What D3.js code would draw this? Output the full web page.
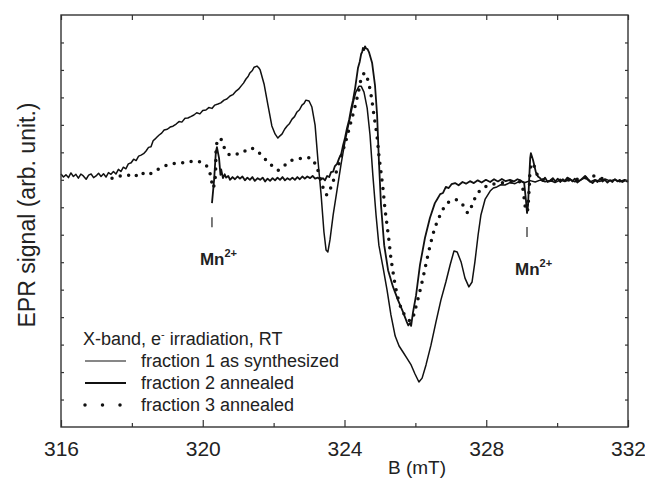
<!DOCTYPE html>
<html>
<head>
<meta charset="utf-8">
<script src="https://cdn.jsdelivr.net/npm/d3@7"></script>
<style>
  body { margin: 0; background: #fff; }
  text { font-family: "Liberation Sans", Arial, sans-serif; fill: #222; }
</style>
</head>
<body>
<div id="wrapper"></div>
<script>
// [B (mT), EPR signal (arb.)]
const fraction1 = [
  [316.00,9.21],[316.07,9.10],[316.14,9.18],[316.21,9.08],[316.28,9.25],[316.35,9.12],[316.42,9.20],[316.49,9.06],
  [316.56,9.21],[316.63,9.14],[316.71,9.02],[316.78,9.17],[316.85,9.21],[316.92,9.08],[316.99,9.14],[317.06,9.24],
  [317.13,9.12],[317.20,9.22],[317.27,9.10],[317.34,9.26],[317.41,9.20],[317.48,9.30],[317.55,9.21],[317.62,9.38],
  [317.69,9.30],[317.76,9.46],[317.83,9.40],[317.90,9.58],[317.98,9.62],[318.05,9.75],[318.12,9.70],[318.19,9.86],
  [318.26,9.90],[318.33,9.95],[318.40,10.05],[318.47,10.18],[318.54,10.20],[318.60,10.42],[318.65,10.48],[318.71,10.56],
  [318.77,10.63],[318.84,10.70],[318.91,10.81],[319.00,10.84],[319.08,10.92],[319.16,10.95],[319.25,11.03],[319.33,11.12],
  [319.41,11.10],[319.50,11.24],[319.58,11.25],[319.66,11.30],[319.75,11.36],[319.83,11.44],[319.92,11.40],[320.00,11.52],
  [320.09,11.54],[320.17,11.63],[320.26,11.60],[320.34,11.72],[320.43,11.76],[320.51,11.80],[320.60,11.90],[320.68,11.94],
  [320.77,12.05],[320.85,12.10],[320.94,12.23],[321.01,12.30],[321.08,12.41],[321.15,12.52],[321.22,12.67],[321.28,12.76],
  [321.33,12.89],[321.40,12.98],[321.45,13.10],[321.53,13.14],[321.58,13.08],[321.62,13.00],
  [321.73,12.49],[321.84,11.72],[321.95,10.96],[322.04,10.67],[322.12,10.52],[322.18,10.60],[322.24,10.67],[322.31,10.84],
  [322.38,10.96],[322.45,11.05],[322.52,11.21],[322.59,11.30],[322.66,11.47],[322.73,11.55],[322.80,11.72],[322.86,11.78],
  [322.91,11.90],[323.00,11.87],[323.08,11.65],[323.17,10.99],[323.25,9.72],[323.34,8.45],
  [323.42,7.10],[323.48,6.44],[323.53,6.37],[323.59,6.81],[323.68,7.72],[323.79,8.63],[323.90,9.54],[324.01,10.37],
  [324.13,11.10],[324.24,11.79],[324.32,12.19],[324.41,12.41],[324.47,12.41],[324.55,12.19],[324.64,11.61],[324.72,10.63],
  [324.80,9.17],[324.89,7.72],[324.97,6.62],[325.09,5.79],[325.20,4.99],[325.31,4.08],[325.43,3.31],[325.54,2.95],
  [325.65,2.73],[325.76,2.51],[325.88,2.26],[325.99,1.93],[326.10,1.64],[326.19,1.78],[326.30,2.26],[326.44,2.98],
  [326.58,3.82],[326.72,4.62],[326.86,5.28],[326.98,5.90],[327.09,6.41],[327.18,6.37],[327.29,6.01],[327.40,5.42],
  [327.51,5.10],[327.60,5.28],[327.68,6.01],[327.77,6.99],[327.85,7.72],[327.97,8.30],[328.11,8.59],[328.20,8.70],
  [328.30,8.74],[328.41,8.82],[328.53,8.81],[328.67,8.90],[328.81,8.86],[328.95,8.95],[329.10,8.90],[329.24,8.97],
  [329.38,8.92],[329.52,8.99],[329.66,8.93],[329.80,8.98],[329.94,8.90],[330.08,8.99],[330.22,8.94],[330.36,9.02],
  [330.50,8.93],[330.65,8.98],[330.79,9.08],[330.93,8.92],[331.07,9.00],[331.21,8.94],[331.35,9.03],[331.49,8.96],
  [331.63,9.01],[331.77,8.93],[331.90,9.00],[332.00,8.95]
];

const fraction2 = [
  [320.26,8.15],[320.32,8.99],[320.37,10.01],[320.40,10.19],[320.46,9.79],[320.50,9.18],[320.52,9.38],[320.57,9.06],
  [320.62,9.20],[320.66,9.08],[320.72,9.14],[320.77,9.00],[320.84,9.10],[320.91,9.02],[320.98,9.12],[321.05,9.04],
  [321.12,9.12],[321.19,8.98],[321.26,9.08],[321.33,9.00],[321.40,9.10],[321.47,8.96],[321.55,9.06],[321.62,9.00],
  [321.69,9.08],[321.76,8.94],[321.83,9.04],[321.90,8.96],[321.97,9.06],[322.04,8.98],[322.11,9.08],[322.18,9.00],
  [322.25,9.10],[322.32,8.98],[322.39,9.06],[322.46,9.00],[322.53,9.08],[322.60,9.00],[322.67,9.10],[322.74,9.02],
  [322.81,9.12],[322.88,9.04],[322.95,9.12],[323.03,9.06],[323.10,9.14],[323.17,9.04],[323.25,9.08],[323.32,9.00],
  [323.39,9.06],[323.45,8.98],[323.51,9.14],[323.57,9.10],[323.62,9.28],[323.68,9.30],[323.73,9.50],[323.79,9.58],
  [323.85,9.79],[323.91,9.95],[323.96,10.26],[324.01,10.50],
  [324.07,10.88],[324.13,11.18],[324.18,11.54],[324.24,11.90],[324.30,12.34],[324.34,12.70],[324.38,13.07],[324.43,13.30],
  [324.47,13.58],[324.50,13.66],[324.52,13.80],[324.55,13.72],[324.58,13.86],[324.61,13.78],[324.65,13.76],[324.69,13.65],
  [324.78,13.25],[324.86,12.45],[324.92,11.36],[324.97,9.72],[325.03,8.08],[325.12,6.62],[325.23,5.71],[325.37,5.10],
  [325.51,4.62],[325.65,4.19],[325.76,3.82],[325.80,3.70],[325.85,3.79],[325.88,3.68],[325.93,4.15],[326.02,4.80],[326.13,5.90],[326.27,6.88],
  [326.41,7.61],[326.55,8.15],[326.62,8.30],[326.70,8.48],[326.78,8.52],[326.86,8.74],[326.94,8.70],[327.02,8.84],
  [327.12,8.88],[327.22,8.80],[327.33,8.92],[327.43,8.86],[327.54,8.95],[327.65,8.88],[327.76,8.98],[327.87,8.90],
  [327.99,9.00],[328.11,8.92],[328.22,9.02],[328.33,8.94],[328.44,9.03],[328.55,8.95],[328.67,9.00],[328.78,8.94],
  [328.88,9.02],[328.95,8.99],
  [329.07,8.88],[329.12,8.26],[329.15,7.79],[329.18,8.08],[329.21,8.99],[329.24,9.79],[329.26,9.97],
  [329.32,9.72],[329.40,9.28],[329.46,9.12],[329.52,9.06],[329.59,8.96],[329.66,9.08],[329.73,8.92],[329.80,8.95],
  [329.88,9.06],[329.95,8.94],[330.02,9.04],[330.09,8.92],[330.16,9.02],[330.22,8.96],[330.29,9.08],[330.36,9.03],
  [330.43,8.94],[330.50,9.04],[330.57,8.90],[330.65,8.98],[330.72,9.06],[330.79,9.14],[330.86,9.04],[330.93,8.95],
  [331.00,8.88],[331.07,8.98],[331.14,8.92],[331.21,9.04],[331.28,8.94],[331.35,9.00],[331.42,8.90],[331.49,8.99],
  [331.56,8.92],[331.63,9.02],[331.70,8.94],[331.77,9.00],[331.84,8.92],[331.92,8.98],[332.00,8.92]
];

const fraction3 = [
  [317.44,9.06],[317.66,9.14],[317.89,9.17],[318.06,9.10],[318.23,9.28],[318.40,9.17],[318.60,9.28],[318.85,9.46],
  [319.10,9.57],[319.36,9.61],[319.58,9.65],[319.81,9.68],[320.01,9.61],[320.15,9.43],[320.23,9.10],[320.29,8.70],
  [320.35,9.06],[320.37,9.72],[320.40,10.34],[320.49,10.52],[320.60,10.19],[320.77,9.90],[320.97,9.94],[321.14,10.01],
  [321.33,10.16],[321.53,10.05],[321.73,9.79],[321.93,9.54],[322.12,9.35],[322.29,9.50],[322.46,9.68],[322.66,9.76],
  [322.89,9.79],[323.06,9.79],[323.20,9.50],[323.31,9.10],[323.42,8.63],[323.51,8.45],[323.62,8.74],[323.73,9.14],
  [323.85,9.61],[323.96,10.08],[324.07,10.56],[324.18,11.10],[324.30,11.68],[324.41,12.30],[324.49,12.74],[324.58,12.89],
  [324.66,12.63],[324.75,12.08],[324.83,11.36],[324.92,10.56],[324.97,9.90],[325.03,9.28],[325.09,8.63],[325.14,7.97],
  [325.20,7.35],[325.26,6.73],[325.31,6.15],[325.37,5.64],[325.43,5.17],[325.51,4.70],[325.62,4.26],[325.76,3.97],
  [325.88,3.86],[325.99,4.26],[326.10,4.80],[326.22,5.46],[326.33,6.12],[326.44,6.73],[326.55,7.24],[326.70,7.72],
  [326.86,8.08],[327.03,8.26],[327.18,8.26],[327.34,8.08],[327.49,7.79],[327.60,8.08],[327.74,8.48],[327.91,8.70],
  [328.11,8.81],[328.39,8.88],[328.73,8.92],[328.95,8.92],[329.04,8.63],[329.09,8.08],[329.15,7.83],[329.21,8.63],
  [329.26,9.50],[329.32,9.61],[329.40,9.28],[329.55,9.03],[329.80,8.99],[330.22,8.99],[330.65,9.03],[331.07,9.14],
  [331.35,8.99]
];

const xMajorTicks = [316, 320, 324, 328, 332];
const xMinorTicks = [318, 322, 326, 330];
const yTicks = d3.range(1, 15);
const legendLabels = ["fraction 1 as synthesized", "fraction 2 annealed", "fraction 3 annealed"];
const mnPositions = [320.26, 329.15];

let dimensions = {
  width: 645,
  height: 480,
  margin: { top: 15, right: 17, bottom: 53, left: 61 },
}
dimensions.boundedWidth = dimensions.width - dimensions.margin.left - dimensions.margin.right
dimensions.boundedHeight = dimensions.height - dimensions.margin.top - dimensions.margin.bottom

const wrapper = d3.select("#wrapper")
  .append("svg")
  .attr("width", dimensions.width)
  .attr("height", dimensions.height)

const bounds = wrapper.append("g")
  .attr("transform", `translate(${dimensions.margin.left},${dimensions.margin.top})`)

const xScale = d3.scaleLinear()
  .domain([316, 332])
  .range([0, dimensions.boundedWidth])

const yScale = d3.scaleLinear()
  .domain([0, 15])
  .range([dimensions.boundedHeight, 0])

// curves
const lineGen = d3.line()
  .x(d => xScale(d[0]))
  .y(d => yScale(d[1]))

bounds.append("path")
  .attr("d", lineGen(fraction1))
  .attr("fill", "none")
  .attr("stroke", "#111")
  .attr("stroke-width", 1.5)
  .attr("stroke-linejoin", "round")

bounds.append("path")
  .attr("d", lineGen(fraction2))
  .attr("fill", "none")
  .attr("stroke", "#111")
  .attr("stroke-width", 1.8)
  .attr("stroke-linejoin", "round")

bounds.append("path")
  .attr("d", lineGen.curve(d3.curveCatmullRom)(fraction3))
  .attr("fill", "none")
  .attr("stroke", "#111")
  .attr("stroke-width", 3.5)
  .attr("stroke-linecap", "round")
  .attr("stroke-dasharray", "0,8.5")

// frame + axes
bounds.append("rect")
  .attr("width", dimensions.boundedWidth)
  .attr("height", dimensions.boundedHeight)
  .attr("fill", "none")
  .attr("stroke", "#333")
  .attr("stroke-width", 1.4)

const xAxis = bounds.append("g")
  .attr("transform", `translate(0,${dimensions.boundedHeight})`)
  .call(d3.axisBottom(xScale).tickValues(xMajorTicks).tickSize(-7).tickPadding(14).tickFormat(d3.format("d")))
bounds.append("g")
  .attr("transform", `translate(0,${dimensions.boundedHeight})`)
  .call(d3.axisBottom(xScale).tickValues(xMinorTicks).tickSize(-4).tickFormat(""))
bounds.append("g")
  .call(d3.axisTop(xScale).tickValues(xMinorTicks.concat(xMajorTicks)).tickSize(-5).tickFormat(""))
bounds.append("g")
  .call(d3.axisLeft(yScale).tickValues(yTicks).tickSize(-3).tickFormat(""))
bounds.append("g")
  .attr("transform", `translate(${dimensions.boundedWidth},0)`)
  .call(d3.axisRight(yScale).tickValues(yTicks).tickSize(-3).tickFormat(""))

bounds.selectAll(".domain").remove()
bounds.selectAll(".tick line").attr("stroke", "#333").attr("stroke-width", 1.2)
xAxis.selectAll("text")
  .style("font-size", "21px")
  .style("font-family", "'Liberation Sans', Arial, sans-serif")
  .attr("fill", "#222")

wrapper.append("text")
  .attr("x", 417)
  .attr("y", 474)
  .attr("text-anchor", "middle")
  .style("font-size", "19px")
  .text("B (mT)")

wrapper.append("text")
  .attr("transform", "translate(35,215) rotate(-90)")
  .attr("text-anchor", "middle")
  .style("font-size", "23px")
  .text("EPR signal (arb. unit.)")

// Mn2+ markers
const yMnTop = [7.64, 7.28]
mnPositions.forEach((b, i) => {
  bounds.append("line")
    .attr("x1", xScale(b)).attr("x2", xScale(b))
    .attr("y1", yScale(yMnTop[i])).attr("y2", yScale(yMnTop[i]) + 10)
    .attr("stroke", "#333").attr("stroke-width", 1.3)
  const t = bounds.append("text")
    .attr("x", xScale(b) - 12)
    .attr("y", yScale(yMnTop[i]) + 48)
    .style("font-size", "17px")
    .style("font-weight", "bold")
  t.append("tspan").text("Mn")
  t.append("tspan").attr("dy", -8).style("font-size", "11px").text("2+")
})

// legend
const legend = wrapper.append("g")
const title = legend.append("text")
  .attr("x", 83).attr("y", 345)
  .style("font-size", "18px")
title.append("tspan").text("X-band, e")
title.append("tspan").attr("dy", -7).style("font-size", "11px").text("-")
title.append("tspan").attr("dy", 7).text(" irradiation, RT")

legendLabels.forEach((label, i) => {
  const y = 367 + i * 22
  const l = legend.append("line")
    .attr("x1", 85).attr("x2", 126)
    .attr("y1", y - 6).attr("y2", y - 6)
    .attr("stroke", "#111")
  if (i == 0) l.attr("stroke-width", 1.2)
  if (i == 1) l.attr("stroke-width", 1.8)
  if (i == 2) l.attr("x1", 85).attr("x2", 121)
    .attr("stroke-width", 3.5).attr("stroke-linecap", "round").attr("stroke-dasharray", "0,17.5")
  legend.append("text")
    .attr("x", 141).attr("y", y)
    .style("font-size", "18px")
    .text(label)
})
</script>
</body>
</html>
